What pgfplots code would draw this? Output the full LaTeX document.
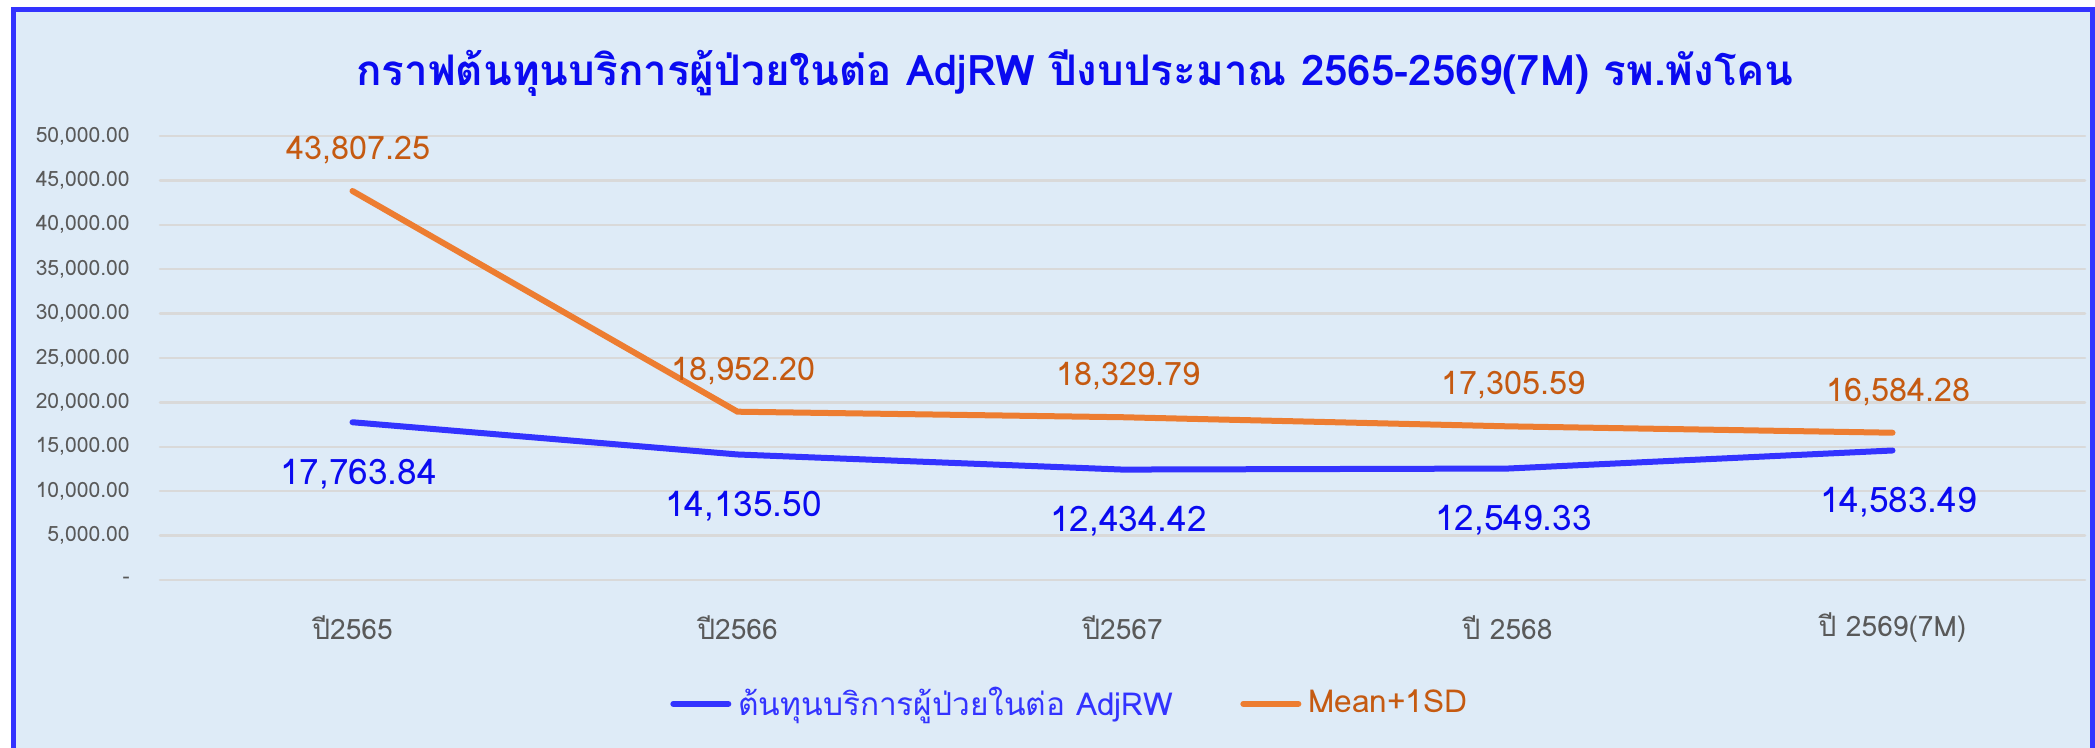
\documentclass[border=0pt]{standalone}
\usepackage{fontspec}
\setmainfont{Loma}[Script=Thai]
\usepackage{pgfplots}
\pgfplotsset{compat=1.18}
\definecolor{bgblue}{RGB}{222,235,247}
\definecolor{frameblue}{RGB}{51,51,255}
\definecolor{costblue}{RGB}{51,51,255}
\definecolor{costtext}{RGB}{10,10,240}
\definecolor{sdorange}{RGB}{237,125,49}
\definecolor{sdtext}{RGB}{197,90,17}
\definecolor{ticktext}{RGB}{89,89,89}
\definecolor{gridgray}{RGB}{217,217,217}

\pgfplotstableread{
x cost sd
0 17763.84 43807.25
1 14135.50 18952.20
2 12434.42 18329.79
3 12549.33 17305.59
4 14583.49 16584.28
}\costdata

\begin{document}
\begin{tikzpicture}[x=1mm,y=1mm]
\useasboundingbox (0,0) rectangle (209.5,74.8);
\fill[white] (0,0) rectangle (209.5,74.8);
\fill[bgblue] (1.3,0) rectangle (209.2,73.8);
\draw[frameblue,line width=0.5mm] (1.3,0) -- (1.3,73.8) -- (209.2,73.8) -- (209.2,0);
\node[costtext,font=\bfseries\fontsize{12}{14}\selectfont] at (107.5,67.5)
  {กราฟต้นทุนบริการผู้ป่วยในต่อ AdjRW ปีงบประมาณ 2565-2569(7M) รพ.พังโคน};
\begin{axis}[
  at={(16mm,16.8mm)},
  anchor=south west,
  scale only axis,
  width=192.5mm,
  height=44.4mm,
  xmin=-0.5, xmax=4.5,
  ymin=0, ymax=50000,
  scaled y ticks=false,
  xtick={0,...,4},
  xticklabels={ปี2565,ปี2566,ปี2567,ปี 2568,ปี 2569(7M)},
  ytick={0,5000,...,50000},
  yticklabels={-,{5,000.00},{10,000.00},{15,000.00},{20,000.00},{25,000.00},{30,000.00},{35,000.00},{40,000.00},{45,000.00},{50,000.00}},
  xticklabel style={ticktext,font=\fontsize{8}{9}\selectfont,anchor=center,yshift=-4.8mm},
  yticklabel style={ticktext,font=\fontsize{6}{7}\selectfont,anchor=east,xshift=-1.8mm},
  axis line style={draw=none},
  major tick style={draw=none},
  ymajorgrids,
  grid style={gridgray,line width=0.25mm},
  line cap=round,
  nodes near coords,
  point meta=y,
  every node near coord/.append style={
    /pgf/number format/fixed,
    /pgf/number format/precision=2,
    /pgf/number format/fixed zerofill,
    /pgf/number format/1000 sep={,},
    /pgf/number format/assume math mode=true,
    anchor=center},
  legend columns=2,
  legend style={at={(0.474,-0.279)},anchor=center,draw=none,fill=none,
    font=\fontsize{9}{10}\selectfont,
    /tikz/every even column/.append style={column sep=6mm}},
  legend image code/.code={\draw[#1,line width=0.6mm,line cap=round] (0mm,0mm) -- (5.5mm,0mm);},
]
\addplot[costblue,line width=0.6mm,
  every node near coord/.append style={costtext,font=\fontsize{10}{11}\selectfont,yshift=-5.2mm,xshift=0.6mm}]
  table[x=x,y=cost]{\costdata};
\addlegendentry{\textcolor{costblue}{ต้นทุนบริการผู้ป่วยในต่อ AdjRW}}
\addplot[sdorange,line width=0.6mm,
  every node near coord/.append style={sdtext,font=\fontsize{9.2}{10}\selectfont,yshift=4.1mm,xshift=0.6mm}]
  table[x=x,y=sd]{\costdata};
\addlegendentry{\textcolor{sdtext}{Mean+1SD}}
\end{axis}
\end{tikzpicture}
\end{document}
